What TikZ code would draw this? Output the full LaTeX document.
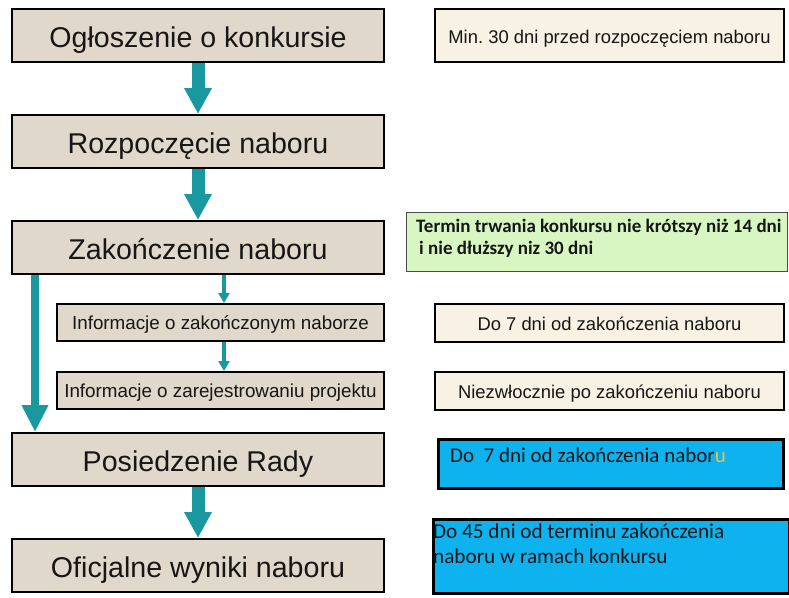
\documentclass[tikz,border=0pt]{standalone}
\usepackage{fontspec}
\setmainfont{Liberation Sans}
\newfontfamily\calfont{Carlito}
\usetikzlibrary{arrows.meta}
\definecolor{tealarr}{RGB}{26,152,160}
\definecolor{leftfill}{RGB}{224,216,202}
\definecolor{creamfill}{RGB}{247,242,228}
\definecolor{greenfill}{RGB}{216,246,194}
\definecolor{bluefill}{RGB}{14,178,238}
\definecolor{txt}{RGB}{22,22,22}
\definecolor{yel}{RGB}{226,196,70}
\frenchspacing
\tikzset{
  bigbox/.style={draw=black, line width=2pt, fill=leftfill, inner sep=0pt, anchor=north west,
    minimum width=372pt, minimum height=53pt, text=txt, font=\fontsize{28.6}{32}\selectfont,
    text height=23pt, text depth=0pt},
  smallbox/.style={draw=black, line width=2pt, fill=leftfill, inner sep=0pt, anchor=north west,
    minimum width=327pt, minimum height=37pt, text=txt, font=\fontsize{18.8}{22}\selectfont,
    text height=14.5pt, text depth=0pt},
  creambox/.style={draw=black, line width=2pt, fill=creamfill, inner sep=0pt, anchor=north west,
    minimum width=349pt, text=txt, font=\fontsize{18.4}{22}\selectfont,
    text height=15pt, text depth=0pt},
  greenbox/.style={draw=black!70, line width=0.8pt, fill=greenfill, inner sep=0pt, anchor=north west,
    minimum width=381pt, minimum height=59pt},
  bluebox/.style={draw=black, line width=3pt, fill=bluefill, inner sep=0pt, anchor=north west},
  caltext/.style={inner sep=0pt, anchor=north west, align=left, text=txt},
  bigarrow/.style={draw=tealarr, line width=13pt, -{Triangle[width=26pt,length=26pt]}},
  longarrow/.style={draw=tealarr, line width=8.5pt, -{Triangle[width=25pt,length=27pt]}},
  smallarrow/.style={draw=tealarr, line width=3.5pt, -{Triangle[width=11pt,length=10pt]}},
}
\begin{document}
\begin{tikzpicture}[x=1pt,y=-1pt]
\useasboundingbox[fill=white] (0,0) rectangle (789,597);
% left column
\node[bigbox] (ogl) at (11,8) {Ogłoszenie o konkursie};
\node[bigbox] (roz) at (11,114) {Rozpoczęcie naboru};
\node[bigbox] (zak) at (11,220) {Zakończenie naboru};
\node[smallbox] (inf1) at (56,303) {Informacje o zakończonym naborze};
\node[smallbox] (inf2) at (56,371) {Informacje o zarejestrowaniu projektu};
\node[bigbox] (pos) at (11,432) {Posiedzenie Rady};
\node[bigbox] (ofi) at (11,538) {Oficjalne wyniki naboru};
% arrows
\draw[bigarrow] (ogl.south) -- (roz.north);
\draw[bigarrow] (roz.south) -- (zak.north);
\draw[bigarrow] (pos.south) -- (ofi.north);
\coordinate (ls) at ([xshift=24pt]zak.south west);
\coordinate (le) at ([xshift=24pt]pos.north west);
\draw[longarrow] (ls) -- (le);
\coordinate (s1) at ([xshift=213pt]zak.south west);
\coordinate (e1) at ([xshift=168pt]inf1.north west);
\draw[smallarrow] (s1) -- (e1);
\coordinate (s2) at ([xshift=168pt]inf1.south west);
\coordinate (e2) at ([xshift=168pt]inf2.north west);
\draw[smallarrow] (s2) -- (e2);
% right column
\node[creambox, minimum height=53pt] (r1) at (434,8) {Min. 30 dni przed rozpoczęciem naboru};
\node[greenbox] (r2) at (406,212) {};
\node[caltext, font=\calfont\bfseries\fontsize{19}{22}\selectfont] (t2) at ([xshift=10pt,yshift=-7pt]r2.north west)
  {Termin trwania konkursu nie krótszy niż 14 dni\\\hspace{3pt}i nie dłuższy niz 30 dni};
\node[creambox, minimum height=38pt] (r3) at (434,303) {Do 7 dni od zakończenia naboru};
\node[creambox, minimum height=38pt] (r4) at (434,371) {Niezwłocznie po zakończeniu naboru};
\node[bluebox, minimum width=345pt, minimum height=49pt] (r5) at (437,438) {};
\node[caltext, font=\calfont\fontsize{21}{24}\selectfont] (t5) at ([xshift=13pt,yshift=-9.5pt]r5.north west)
  {Do\ \ 7 dni od zakończenia nabor\textcolor{yel}{u}};
\node[bluebox, minimum width=356pt, minimum height=74pt] (r6) at (432,518) {};
\node[caltext, font=\calfont\fontsize{21.2}{25}\selectfont] (t6) at ([xshift=1pt,yshift=-6pt]r6.north west)
  {Do 45 dni od terminu zakończenia\\naboru w ramach konkursu};
\end{tikzpicture}
\end{document}
